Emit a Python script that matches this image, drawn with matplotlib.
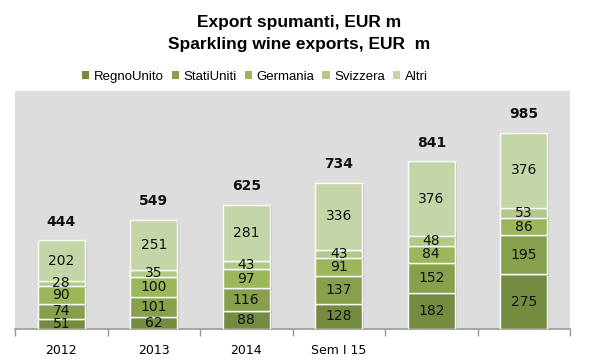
import matplotlib
matplotlib.use("Agg")
import matplotlib.pyplot as plt
import matplotlib.patheffects as pe
from matplotlib.patches import Patch
import numpy as np

categories = ["2012", "2013", "2014", "Sem I 15", "", ""]
series_names = ["RegnoUnito", "StatiUniti", "Germania", "Svizzera", "Altri"]
regno_unito = [51, 62, 88, 128, 182, 275]
stati_uniti = [74, 101, 116, 137, 152, 195]
germania = [90, 100, 97, 91, 84, 86]
svizzera = [28, 35, 43, 43, 48, 53]
altri = [202, 251, 281, 336, 376, 376]
totals = [444, 549, 625, 734, 841, 985]

colors = ["#758C40", "#88A04C", "#9BB65B", "#B2C98A", "#C4D6A8"]

fig = plt.figure(figsize=(5.99, 3.63), dpi=100)
ax = fig.add_axes([15 / 599, 1 - 329 / 363, 555 / 599, 238 / 363])
ax.set_facecolor("#DDDDDD")

x = np.arange(len(categories))
bottom = np.zeros(len(categories))
for name, vals, col in zip(series_names,
                           [regno_unito, stati_uniti, germania, svizzera, altri],
                           colors):
    bars = ax.bar(x, vals, width=0.51, bottom=bottom, color=col,
                  edgecolor="white", linewidth=1.0, label=name, zorder=3)
    for b in bars:
        b.set_path_effects([pe.SimplePatchShadow(offset=(1.5, -1), shadow_rgbFace="#AAAAAA", alpha=0.6),
                            pe.Normal()])
    for xi, v, b0 in zip(x, vals, bottom):
        ax.text(xi, b0 + v / 2, str(v), ha="center", va="center",
                fontsize=10, color="#111111", zorder=4)
    bottom += np.array(vals)

for xi, t in zip(x, totals):
    ax.text(xi, t + 95, str(t), ha="center", va="center",
            fontsize=10, fontweight="bold", color="#111111")

ax.set_xlim(-0.5, len(categories) - 0.5)
ax.set_ylim(0, 1196)
ax.set_yticks([])
for s in ["left", "right", "top"]:
    ax.spines[s].set_visible(False)
ax.spines["bottom"].set_color("#999999")
ax.spines["bottom"].set_linewidth(1.2)

ax.set_xticks(x)
ax.set_xticklabels(categories, fontsize=9)
ax.tick_params(axis="x", which="major", length=0, pad=11)
ax.set_xticks(np.arange(-0.5, len(categories), 1), minor=True)
ax.tick_params(axis="x", which="minor", length=5, color="#999999", width=1)

fig.text(0.5, 1 - 22 / 363, "Export spumanti, EUR m", ha="center", va="center",
         fontsize=12.5, fontweight="bold", family=["Liberation Sans", "DejaVu Sans"])
fig.text(0.5, 1 - 45 / 363, "Sparkling wine exports, EUR  m", ha="center", va="center",
         fontsize=12.5, fontweight="bold", family=["Liberation Sans", "DejaVu Sans"])

handles = [Patch(facecolor=c, edgecolor="none") for c in colors]
leg = fig.legend(handles=handles, labels=series_names, loc="center",
                 bbox_to_anchor=(255 / 599, 1 - 77 / 363), ncol=5, frameon=False,
                 handlelength=0.55, handleheight=0.55, handletextpad=0.35,
                 columnspacing=0.6, prop={"size": 9.5, "family": ["Liberation Sans", "DejaVu Sans"]})

fig.savefig("out.png", dpi=100)
